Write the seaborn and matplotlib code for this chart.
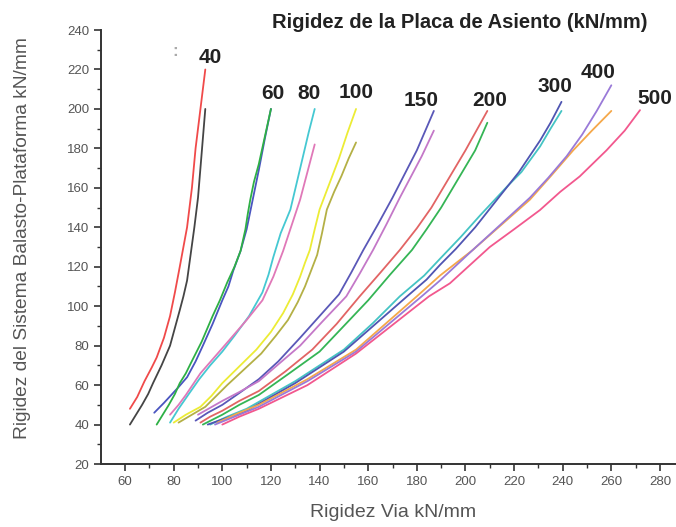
import numpy as np
import pandas as pd
import matplotlib
matplotlib.use("Agg")
import matplotlib.pyplot as plt
from matplotlib.ticker import MultipleLocator
import seaborn as sns

# ---- data ----
x_40a = [62, 65, 68, 71, 73, 76, 78.5, 80.5, 82.5, 84, 85.5, 87.5, 89, 91, 93]
y_40a = [48, 54, 62, 69, 74, 84, 95, 107, 120, 130, 140, 160, 180, 200, 220]
x_40b = [62, 64.5, 67, 69.5, 71.5, 75, 78.5, 80.5, 82.5, 84, 85.5, 86.5, 87.5, 88.5, 90, 91, 92, 93]
y_40b = [40, 45, 50, 55.5, 61, 70, 80, 89, 98, 105, 113, 122, 131, 140, 155, 170, 185, 200]

x_60a = [72, 76, 79, 82, 85.5, 89, 92, 96, 100, 102.5, 104.5, 106, 107.5, 110, 112.5, 115, 117.5, 120]
y_60a = [46, 51, 55, 59, 64, 72, 80, 91, 103, 110, 118, 123, 128, 139, 154, 169, 185, 200]
x_60b = [73, 75.5, 78, 80.5, 82.5, 85, 87, 91.5, 96, 99, 102, 105, 107.5, 109.5, 110.5, 111.5, 113, 115, 117.5, 120]
y_60b = [40, 45, 50, 55.5, 61, 66, 71, 82, 95, 103, 112, 120, 128, 139, 147, 154, 163, 172, 186, 200]

x_80a = [78.5, 82, 86.5, 90.5, 95, 100, 105, 111, 116.5, 119, 121, 124, 128, 130.5, 133, 135.5, 138]
y_80a = [41, 48, 56, 63, 70, 77, 85, 95, 107, 116, 125, 137, 149, 162, 175, 188, 200]
x_80b = [78.5, 82, 85, 88, 91, 97, 103, 110, 116.5, 121, 125, 128.5, 132, 135, 138]
y_80b = [45, 50, 55, 60.5, 66, 74.5, 83, 93, 103, 115, 128, 141, 154, 168, 182]

x_100a = [80, 85, 91, 95.5, 100, 107, 114, 120, 125, 129, 132, 134, 136, 138, 140, 144, 148, 151.5, 155]
y_100a = [41, 45, 49, 54.5, 61, 69.5, 78, 87, 96.5, 106, 115, 122, 128.5, 139, 149, 162, 175, 188, 200]
x_100b = [82, 87.5, 93, 97.5, 102, 109, 116, 122, 127, 131, 134, 136.5, 139, 141, 143, 146, 149, 152, 155]
y_100b = [41, 45, 49, 54.5, 60, 68, 76, 85, 93, 102, 110, 118, 126, 137, 149, 158, 166, 175, 183]

x_150a = [89, 94, 100, 107, 115, 123, 132, 140, 148, 153, 158, 164, 170, 175, 180, 183.5, 187]
y_150a = [42, 46, 50, 56, 63, 72, 84, 95, 106, 117, 128.5, 141.5, 155, 167, 179, 189, 199]
x_150b = [90, 95, 100, 107, 115, 123, 132, 141, 151, 156.5, 162, 167.5, 173, 177.5, 182, 184.5, 187]
y_150b = [45, 48.5, 52, 56.5, 62, 70.5, 80, 92, 105, 116.5, 128.5, 141.5, 155, 165.5, 176, 182.5, 189]

x_200a = [91, 95, 100, 107, 115, 126, 137, 147, 156.5, 165, 173, 180, 186, 193, 200, 204.5, 209]
y_200a = [41, 44, 47, 52, 57, 67, 78, 91, 105, 117, 128.5, 139.5, 150, 164.5, 179, 189, 199]
x_200b = [92, 96, 100, 107, 115, 127, 140, 150, 160, 169, 178, 184, 190, 197, 204, 206.5, 209]
y_200b = [40, 42.5, 45, 50, 55, 65.5, 77, 90, 103, 116, 128.5, 139, 150, 164.5, 179, 186, 193]

x_300a = [95, 102, 110, 120, 130, 140, 150, 162, 173, 183, 189.5, 198, 206, 217, 223, 230.7, 235, 239.5]
y_300a = [40, 44, 48, 55, 62, 70, 78, 91.5, 105, 115.5, 124, 135, 146, 160.5, 168, 181, 190, 199]
x_300b = [94, 102, 110, 120, 130, 140, 150, 163, 176, 184, 189.5, 196, 204, 214, 222, 230.7, 235, 239.5]
y_300b = [40, 43.5, 47, 54, 61, 69, 77, 91, 105, 113.5, 120.9, 129, 140, 155.6, 168, 184, 193, 203.6]

x_400a = [98, 106, 115, 125, 135, 145, 155, 167.5, 180, 189.5, 203, 215, 226.5, 235.5, 244.3, 252, 260]
y_400a = [41, 45.5, 50, 56.5, 63, 70.5, 78, 91.5, 105, 115.5, 128.5, 141.5, 154, 166.5, 179, 189, 199]
x_400b = [97, 106, 115, 125, 135, 145, 155, 168.5, 182, 189.5, 203, 215, 226.5, 234, 241.6, 248, 254, 260]
y_400b = [40, 44.5, 49, 55.5, 62, 69.5, 77, 91, 105, 113, 128.5, 142, 155, 165, 176, 187, 199, 212]

x_500 = [100, 107, 115, 125, 135, 145, 155, 170, 185, 193.6, 210, 220, 230.6, 239, 247, 258, 265.5, 271.8]
y_500 = [40, 44, 48, 54, 60, 68, 76, 90.5, 105, 111.6, 130, 139, 148.7, 158, 165.8, 179, 189, 199.4]

series = {
    "40a": (x_40a, y_40a), "40b": (x_40b, y_40b),
    "60a": (x_60a, y_60a), "60b": (x_60b, y_60b),
    "80a": (x_80a, y_80a), "80b": (x_80b, y_80b),
    "100a": (x_100a, y_100a), "100b": (x_100b, y_100b),
    "150a": (x_150a, y_150a), "150b": (x_150b, y_150b),
    "200a": (x_200a, y_200a), "200b": (x_200b, y_200b),
    "300a": (x_300a, y_300a), "300b": (x_300b, y_300b),
    "400a": (x_400a, y_400a), "400b": (x_400b, y_400b),
    "500": (x_500, y_500),
}

palette = {
    "40a": "#f04a4a", "40b": "#454545",
    "60a": "#4a55c0", "60b": "#2eb045",
    "80a": "#45c8d2", "80b": "#e078b8",
    "100a": "#ecec35", "100b": "#b4b045",
    "150a": "#5a58b8", "150b": "#c478c8",
    "200a": "#e26464", "200b": "#35b555",
    "300a": "#45c4c4", "300b": "#4f55b2",
    "400a": "#f5a84a", "400b": "#9a7ad8",
    "500": "#f2588e",
}

label_text = ["40", "60", "80", "100", "150", "200", "300", "400", "500"]
label_x = [95, 121, 135.7, 155, 181.7, 210, 236.8, 254.5, 278]
label_y = [226, 208, 208, 208.5, 204.5, 204.5, 211.6, 218.7, 205.5]

rows = []
for name, (xs, ys) in series.items():
    for xv, yv in zip(xs, ys):
        rows.append({"serie": name, "x": xv, "y": yv})
df = pd.DataFrame(rows)

sns.set_style("ticks")
plt.rcParams["font.family"] = ["Liberation Sans", "DejaVu Sans"]

fig = plt.figure(figsize=(6.76, 5.27), dpi=100)
ax = fig.add_axes([0.1494, 0.1195, 0.8506, 0.8235])

sns.lineplot(data=df, x="x", y="y", hue="serie", palette=palette,
             estimator=None, sort=False, legend=False, linewidth=1.3, ax=ax)

ax.set_xlim(50.1, 286.6)
ax.set_ylim(20, 240)
ax.xaxis.set_minor_locator(MultipleLocator(10))
ax.yaxis.set_major_locator(MultipleLocator(20))
ax.yaxis.set_minor_locator(MultipleLocator(10))
ax.set_xticks(np.arange(60, 281, 20))
ax.tick_params(which="major", length=5, width=1.2, color="#333333",
               labelsize=9.5, labelcolor="#555555", direction="out")
ax.tick_params(which="minor", length=3, width=1.0, color="#333333", direction="out")
for s in ["top", "right"]:
    ax.spines[s].set_visible(False)
for s in ["left", "bottom"]:
    ax.spines[s].set_linewidth(1.4)
    ax.spines[s].set_color("#333333")

ax.set_xlabel("Rigidez Via kN/mm", fontsize=14, color="#555555")
ax.set_ylabel("Rigidez del Sistema Balasto-Plataforma kN/mm", fontsize=13.8,
              color="#555555")
ax.xaxis.set_label_coords(0.508, -0.092)
ax.yaxis.set_label_coords(-0.122, 0.52)

for t, lx, ly in zip(label_text, label_x, label_y):
    ax.text(lx, ly, t, fontsize=15, fontweight="bold", color="#222222",
            ha="center", va="center")
ax.text(80.6, 229, ":", fontsize=12, fontweight="bold", color="#aaaaaa",
        ha="center", va="center")

fig.text(0.680, 0.958, "Rigidez de la Placa de Asiento (kN/mm)", fontsize=14.5,
         fontweight="bold", color="#222222", ha="center", va="center")

fig.savefig("out.png", dpi=100, facecolor="white")
